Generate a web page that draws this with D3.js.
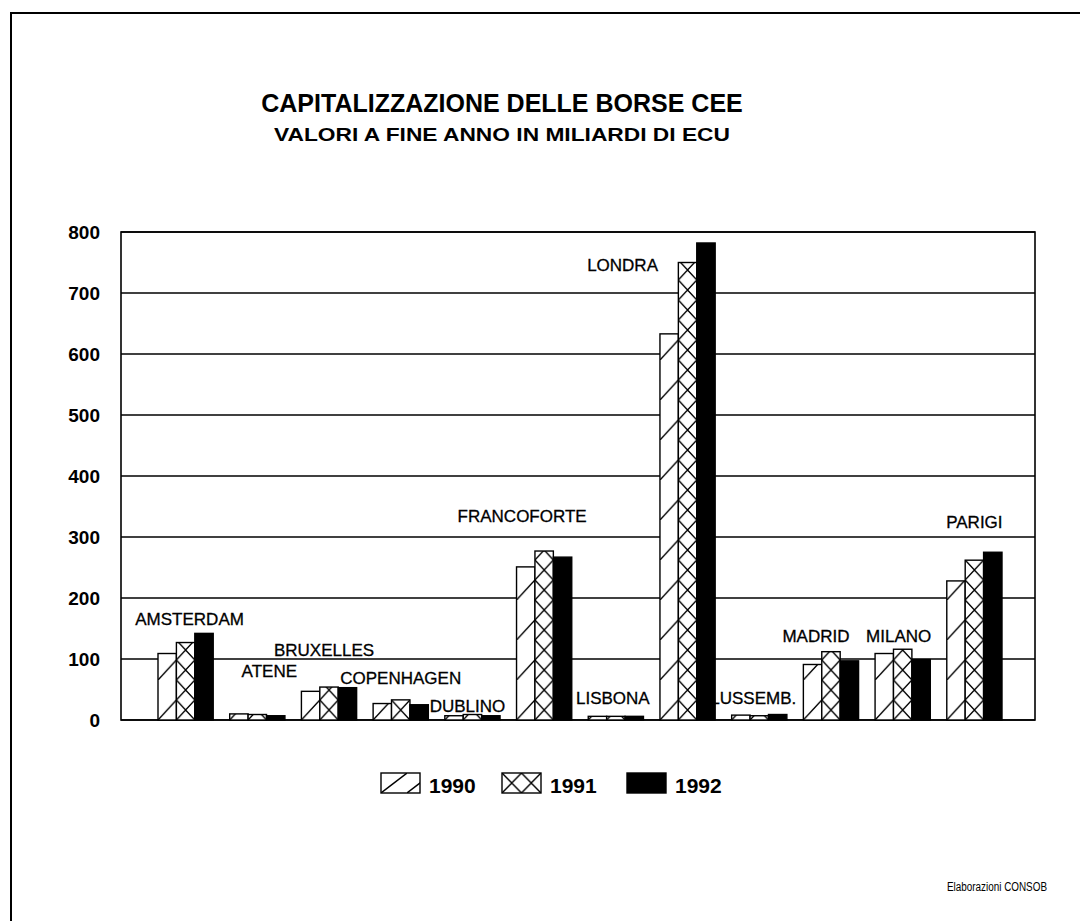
<!DOCTYPE html>
<html><head><meta charset="utf-8">
<script src="https://cdn.jsdelivr.net/npm/d3@7"></script>
<style>
body{margin:0;background:#fff}
svg{display:block}
text{font-family:"Liberation Sans",Arial,Helvetica,sans-serif;fill:#000}
</style>
</head><body><svg id="c" width="1080" height="921"></svg>
<script>
// ---- data ----
const categories = ["AMSTERDAM","ATENE","BRUXELLES","COPENHAGEN","DUBLINO","FRANCOFORTE","LISBONA","LONDRA","LUSSEMB.","MADRID","MILANO","PARIGI"];
const years = ["1990","1991","1992"];
const values1990 = [109,10,47,27,7,251,6,633,8,91,109,228];
const values1991 = [127,9,54,33,9,277,6,750,7,112,116,262];
const values1992 = [142,7,53,25,7,267,6,782,9,97,99,275];
const yTicks = [0,100,200,300,400,500,600,700,800];
const titleText = "CAPITALIZZAZIONE DELLE BORSE CEE";
const subtitleText = "VALORI A FINE ANNO IN MILIARDI DI ECU";
const sourceText = "Elaborazioni CONSOB";

// ---- layout (label anchors in axis units / px offsets) ----
const labelValue = [156,70,105,59,13,325,26,736,26,128,128,315];
const labelDx = [4,12,-5,0,-5,-22,-3,-65,-6,-15,-4,0];

const series = [values1990, values1991, values1992];
const svg = d3.select("#c");
const defs = svg.append("defs");

const plot = {left:121, right:1035, top:232, bottom:720};
const x = d3.scaleBand().domain(categories).range([158,1002]).paddingInner(0.23);
const xs = d3.scaleBand().domain(years).range([0, x.bandwidth()]);
const y = d3.scaleLinear().domain([0,800]).range([plot.bottom, plot.top]);

// page border
svg.append("path").attr("d", `M11,921 V13 H1080`).attr("fill","none").attr("stroke","#000").attr("stroke-width",2);

// titles
svg.append("text").attr("x",502).attr("y",112).attr("text-anchor","middle")
  .attr("font-size",25).attr("font-weight","bold").text(titleText);
svg.append("text").attr("x",502).attr("y",141).attr("text-anchor","middle")
  .attr("font-size",18.5).attr("font-weight","bold")
  .attr("textLength",456).attr("lengthAdjust","spacingAndGlyphs").text(subtitleText);

// gridlines
svg.append("g").selectAll("line").data(yTicks).join("line")
  .attr("x1",plot.left).attr("x2",plot.right)
  .attr("y1",d=>y(d)).attr("y2",d=>y(d))
  .attr("stroke","#000").attr("stroke-width",1.4);

// frame
svg.append("rect").attr("x",plot.left).attr("y",plot.top)
  .attr("width",plot.right-plot.left).attr("height",plot.bottom-plot.top)
  .attr("fill","none").attr("stroke","#000").attr("stroke-width",1.6);

// y axis labels
const yAxis = d3.axisLeft(y).tickValues(yTicks).tickSize(0).tickPadding(21).tickFormat(d3.format("d"));
const ga = svg.append("g").attr("transform",`translate(${plot.left},0)`).call(yAxis);
ga.select(".domain").remove();
ga.selectAll("text").attr("font-size",19).attr("font-weight","bold")
  .attr("font-family","'Liberation Sans',Arial,sans-serif").attr("fill","#000");

// bar data
const bars = [];
categories.forEach((c,i)=>{
  years.forEach((yr,j)=>{
    bars.push({cat:c, year:yr, j:j, value:series[j][i], id:`p${i}_${j}`});
  });
});
const bw = xs.bandwidth();

// per-bar patterns aligned to bar
bars.forEach(b=>{
  const bx = x(b.cat)+xs(b.year);
  if (b.j===0){
    const p = defs.append("pattern").attr("id",b.id).attr("patternUnits","userSpaceOnUse")
      .attr("x",bx).attr("y",plot.bottom).attr("width",bw).attr("height",40);
    p.append("rect").attr("width",bw).attr("height",40).attr("fill","#fff");
    p.append("line").attr("x1",0).attr("y1",40).attr("x2",bw).attr("y2",20)
      .attr("stroke","#000").attr("stroke-width",1.4);
  } else if (b.j===1){
    const p = defs.append("pattern").attr("id",b.id).attr("patternUnits","userSpaceOnUse")
      .attr("x",bx).attr("y",plot.bottom).attr("width",bw).attr("height",20);
    p.append("rect").attr("width",bw).attr("height",20).attr("fill","#fff");
    p.append("path").attr("d",`M0,0 L${bw},20 M0,20 L${bw},0`)
      .attr("stroke","#000").attr("stroke-width",1.4).attr("fill","none");
  }
});

svg.append("g").selectAll("rect").data(bars).join("rect")
  .attr("x",d=>x(d.cat)+xs(d.year))
  .attr("y",d=>y(d.value))
  .attr("width",bw)
  .attr("height",d=>y(0)-y(d.value))
  .attr("fill",d=>d.j===2?"#000":`url(#${d.id})`)
  .attr("stroke","#000").attr("stroke-width",1.4);

// category labels
svg.append("g").selectAll("text").data(categories).join("text")
  .attr("x",(d,i)=>x(d)+x.bandwidth()/2+labelDx[i])
  .attr("y",(d,i)=>y(labelValue[i]))
  .attr("text-anchor","middle").attr("font-size",17)
  .attr("stroke","#000").attr("stroke-width",0.3)
  .text(d=>d);

// legend
const legX = [381,502,627];
const lg = svg.append("g");
const lp0 = defs.append("pattern").attr("id","leg0").attr("patternUnits","userSpaceOnUse")
  .attr("x",legX[0]).attr("y",773).attr("width",26).attr("height",20);
lp0.append("rect").attr("width",26).attr("height",20).attr("fill","#fff");
lp0.append("line").attr("x1",0).attr("y1",20).attr("x2",26).attr("y2",0).attr("stroke","#000").attr("stroke-width",1.4);
const lp1 = defs.append("pattern").attr("id","leg1").attr("patternUnits","userSpaceOnUse")
  .attr("x",legX[1]).attr("y",773).attr("width",19.5).attr("height",20);
lp1.append("rect").attr("width",19.5).attr("height",20).attr("fill","#fff");
lp1.append("path").attr("d","M0,0 L19.5,20 M0,20 L19.5,0").attr("stroke","#000").attr("stroke-width",1.4);

const legFill = ["url(#leg0)","url(#leg1)","#000"];
years.forEach((yr,j)=>{
  lg.append("rect").attr("x",legX[j]).attr("y",773).attr("width",39).attr("height",20)
    .attr("fill",legFill[j]).attr("stroke","#000").attr("stroke-width",1.4);
  lg.append("text").attr("x",legX[j]+48).attr("y",793).attr("font-size",21)
    .attr("font-weight","bold").text(yr);
});

// source
svg.append("text").attr("x",1047).attr("y",891).attr("text-anchor","end")
  .attr("font-size",12).attr("textLength",100).attr("lengthAdjust","spacingAndGlyphs").text(sourceText);
</script>
</body></html>
